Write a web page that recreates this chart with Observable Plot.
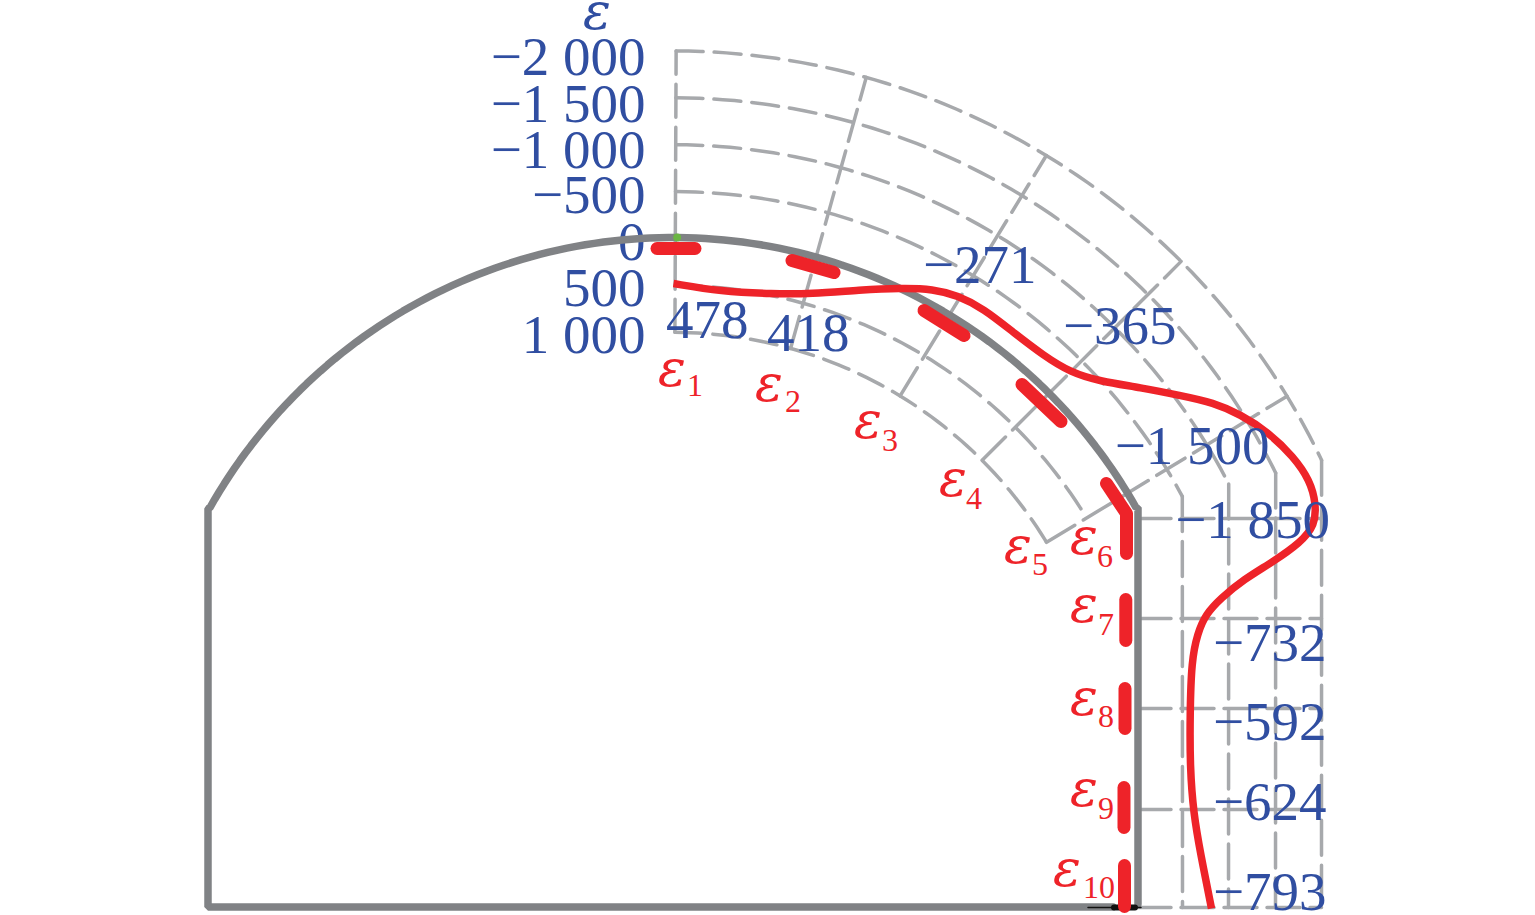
<!DOCTYPE html>
<html>
<head>
<meta charset="utf-8">
<script src="https://cdn.jsdelivr.net/npm/d3@7"></script>
<script src="https://cdn.jsdelivr.net/npm/@observablehq/plot@0.6"></script>
<style>html,body{margin:0;padding:0;background:#fff}svg{display:block}</style>
</head>
<body>
<div id="chart"></div>
<script>
// Section geometry (x: offset from crown axis, h: height above floor)
const archCentreH = 138, archRadius = 531, strainToLen = 46.9 / 500;
const wallX = 465, archEndDeg = 60.5, floorH = 0.5;

// Radial gauge directions (deg from crown) and grid levels
const gaugeAngles = [0.25, 15.6, 31.3, 45, 58.7];
const outerLevels = [-500, -1000, -1500, -2000];
const innerLevels = [500, 1000];
const outerEndDeg = [61.8, 62.8, 63.8, 64.5];
const wallGridX = [509.5, 555.5, 602.5, 648.5];
const wallGridH = [389, 289, 199, 98, 0];

// Axis labels
const axisLabels = ["\u22122 000", "\u22121 500", "\u22121 000", "\u2212500", "0", "500", "1 000"];
const axisLabelH = [850.5, 803.5, 757, 712, 665, 619, 572];

// Measured strains along the lining
const valueLabels = ["478", "418", "\u2212271", "\u2212365", "\u22121 500", "\u22121 850", "\u2212732", "\u2212592", "\u2212624", "\u2212793"];
const valueLabelX = [75.5, 176.5, 363.5, 503.5, 596.5, 657, 653.5, 653.5, 653.5, 653.5];
const valueLabelH = [587, 574, 642, 581, 461.5, 387, 264, 185, 105, 15];

// Smoothed strain envelope
const curveX = [0.5, 47.5, 100.5, 137.5, 187.5, 227.5, 260.5, 284.5, 310.5, 340.5, 370.5, 397.5, 427.5, 467.5, 507.5, 540.5, 567.5, 594.5, 620.5, 637, 643, 642, 627.5, 600.5, 570.5, 547.5, 532.5, 524.5, 518.5, 517, 517, 520.5, 527.5, 538.5];
const curveH = [624, 616, 613.5, 613.5, 617.5, 619.5, 618.5, 612, 599, 575, 552, 535, 526, 520, 512, 505, 493, 476, 451, 427, 404, 382, 365, 346, 328, 309, 293, 274, 247, 194, 140, 94, 54, -1];

// Strain gauges on the lining
const gauges = [
  {id: 1, x: [-16, 22], h: [659, 659]},
  {id: 2, x: [119, 161], h: [647, 635]},
  {id: 3, x: [251, 291], h: [597, 572]},
  {id: 4, x: [349, 388], h: [523, 486]},
  {id: 5, x: [433.5, 453.5, 453.5], h: [424, 394, 354]},
  {id: 7, x: [452.8, 452.8], h: [308, 267]},
  {id: 8, x: [452, 452], h: [219, 179]},
  {id: 9, x: [451, 451], h: [120, 80]},
  {id: 10, x: [451.5, 451.5], h: [42, 1]}
];

// Gauge names
const gaugeSubs = ["1", "2", "3", "4", "5", "6", "7", "8", "9", "10"];
const gaugeNameX = [-15, 82, 181, 266, 331, 397, 397, 397, 397, 380];
const gaugeNameH = [538, 523, 486, 428, 361, 370, 302, 209.5, 118, 38];
const gaugeSubX = [14, 112, 209, 293, 359, 424, 425, 425, 425, 410];
const gaugeSubH = [522, 506, 467, 409, 343, 351, 283, 191, 99, 20];

const blue = "#304ea1", red = "#ee2329", gray = "#808285", gridC = "#a7a9ac";
const serif = "Liberation Serif", epsFont = "DejaVu Serif";

const polar = (r, deg) => {
  const t = deg * Math.PI / 180;
  return {x: r * Math.sin(t), h: archCentreH + r * Math.cos(t)};
};
const rOf = s => archRadius - s * strainToLen;
const arc = (r, a0, a1) => d3.range(a0, a1, 1).concat([a1]).map(d => polar(r, d));

const outerArcs = outerLevels.map((s, i) => arc(rOf(s), gaugeAngles[0], outerEndDeg[i]));
const innerArcs = innerLevels.map(s => arc(rOf(s), gaugeAngles[0], gaugeAngles[4]));
const radials = gaugeAngles.map(a => [polar(rOf(1000), a), polar(rOf(-2000), a)]);
const wallVerticals = wallGridX.map((x, i) => [polar(rOf(outerLevels[i]), outerEndDeg[i]), {x, h: 0}]);
const wallRules = wallGridH.map(h => [{x: wallX, h}, {x: wallGridX[3], h}]);
const outline = [{x: wallX, h: floorH + 3}, {x: wallX, h: 400}].concat(
  arc(archRadius + 1, -archEndDeg, archEndDeg).reverse(),
  [{x: -wallX, h: 399}, {x: -wallX, h: floorH}, {x: wallX - 25, h: floorH}]
);
const rows = (xs, hs, t) => xs.map((x, i) => ({x, h: hs[i], t: t ? t[i] : undefined}));
const paths = (arr, opts) => arr.map(p => Plot.line(p, {x: "x", y: "h", stroke: gridC, strokeWidth: 3.5, ...opts}));

const chart = Plot.plot({
  width: 1535, height: 915, margin: 0,
  x: {domain: [-672.5, 862.5], range: [0, 1535], axis: null},
  y: {domain: [-8, 907], range: [915, 0], axis: null},
  style: {background: "#fff"},
  marks: [
    ...paths(outerArcs, {strokeDasharray: "27 11"}),
    ...paths(innerArcs, {strokeDasharray: "27 11"}),
    ...paths(radials, {strokeDasharray: "33 10"}),
    ...paths(wallVerticals, {strokeDasharray: "35 10"}),
    ...paths(wallRules, {strokeDasharray: "33 10"}),
    Plot.text(rows(axisLabels.map(() => -27.5), axisLabelH, axisLabels), {x: "x", y: "h", text: "t", textAnchor: "end", fontFamily: serif, fontSize: 55, fill: blue}),
    Plot.text([{x: -76, h: 895}], {x: "x", y: "h", text: () => "\u03b5", fontFamily: epsFont, fontStyle: "italic", fontSize: 52, fill: blue, textAnchor: "middle"}),
    Plot.line(outline, {x: "x", y: "h", stroke: gray, strokeWidth: 7.5, strokeLinejoin: "miter"}),
    Plot.line([{x: 415, h: 0}, {x: 468, h: 0}], {x: "x", y: "h", stroke: "#111", strokeWidth: 1.5}),
    Plot.line([{x: 441, h: 0}, {x: 462, h: 0}], {x: "x", y: "h", stroke: "#111", strokeWidth: 6, strokeLinecap: "round"}),
    Plot.dot([{x: 4.2, h: 670}], {x: "x", y: "h", r: 4, fill: "#6cb644"}),
    ...gauges.map(g => Plot.line(rows(g.x, g.h), {x: "x", y: "h", stroke: red, strokeWidth: 13, strokeLinecap: "round", strokeLinejoin: "round"})),
    Plot.line(rows(curveX, curveH), {x: "x", y: "h", curve: "basis", stroke: red, strokeWidth: 7.5, strokeLinecap: "butt"}),
    Plot.text(rows(valueLabelX, valueLabelH, valueLabels), {x: "x", y: "h", text: "t", textAnchor: "end", fontFamily: serif, fontSize: 55, fill: blue}),
    Plot.text(rows(gaugeNameX, gaugeNameH), {x: "x", y: "h", text: () => "\u03b5", textAnchor: "start", fontFamily: epsFont, fontStyle: "italic", fontSize: 52, fill: red}),
    Plot.text(rows(gaugeSubX, gaugeSubH, gaugeSubs), {x: "x", y: "h", text: "t", textAnchor: "start", fontFamily: serif, fontSize: 32, fill: red})
  ]
});
document.getElementById("chart").appendChild(chart);
</script>
</body>
</html>
